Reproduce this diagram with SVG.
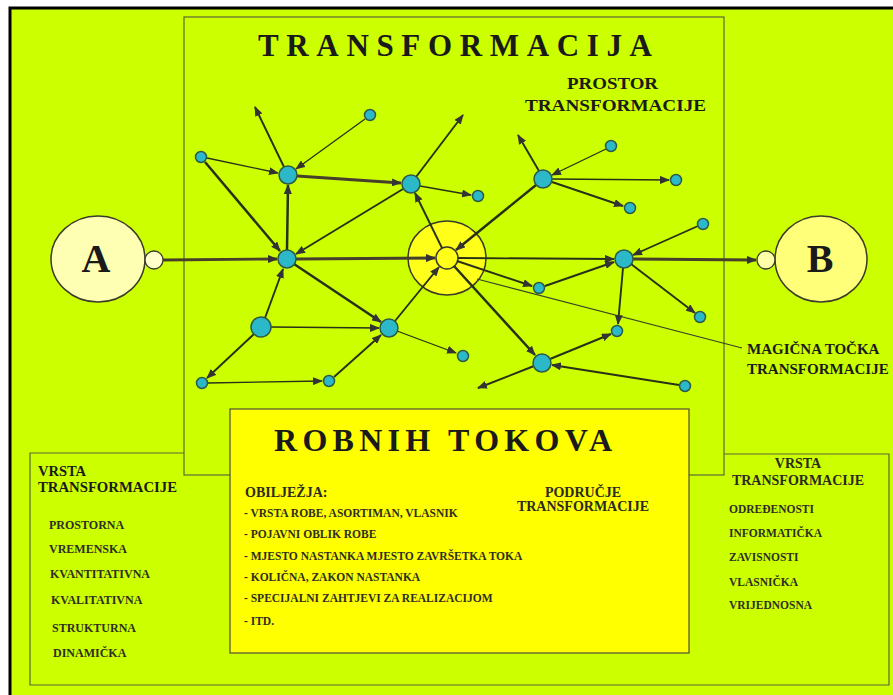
<svg xmlns="http://www.w3.org/2000/svg" width="893" height="695" viewBox="0 0 893 695">
<style>
.t{font-family:"Liberation Serif","Times New Roman",serif;font-weight:bold;fill:#1a1a1a}
.sm{font-size:12px;fill:#2e2e24}
.sr{font-size:11.5px;fill:#2e2e24}
.md{font-size:14px;fill:#2a2a22}
.it{font-size:11.5px;fill:#2e2e24}
.box{fill:none;stroke:#5e6638;stroke-width:1.2}
.e{fill:none;stroke:#283018;marker-end:url(#ah)}
.thin{stroke-width:1.3}
.med{stroke-width:1.9}
.thk{stroke-width:2.5}
.br{stroke:#463f2c;stroke-width:2.8}
.node{fill:#2bb9c9;stroke:#2d5a48;stroke-width:1.5}
</style>
<defs>
<marker id="ah" markerUnits="userSpaceOnUse" markerWidth="10" markerHeight="8" refX="9" refY="4" orient="auto">
<path d="M0,0 L10,4 L0,8 z" fill="#333"/>
</marker>
</defs>
<rect width="893" height="695" fill="#fff"/>
<rect x="10" y="8" width="900" height="700" fill="#ccff00" stroke="#000" stroke-width="3"/>

<g id="frames">
<rect class="box" x="184" y="17" width="540" height="458"/>
<path class="box" d="M184,453 H30 V685 H889 V454 H724"/>
</g>

<g id="robni-box">
<rect x="230" y="409" width="459" height="244" fill="#ffff00" stroke="#4e4e3a" stroke-width="1.2"/>
<text class="t" x="274" y="451" font-size="32" textLength="338" lengthAdjust="spacing">ROBNIH TOKOVA</text>
<text class="t md" x="245" y="497">OBILJEŽJA:</text>
<text class="t it" x="244" y="517">- VRSTA ROBE, ASORTIMAN, VLASNIK</text>
<text class="t it" x="244" y="538">- POJAVNI OBLIK ROBE</text>
<text class="t it" x="244" y="560">- MJESTO NASTANKA MJESTO ZAVRŠETKA TOKA</text>
<text class="t it" x="244" y="581">- KOLIČNA, ZAKON NASTANKA</text>
<text class="t it" x="244" y="602">- SPECIJALNI ZAHTJEVI ZA REALIZACIJOM</text>
<text class="t it" x="244" y="625">- ITD.</text>
<text class="t md" x="583" y="497" text-anchor="middle">PODRUČJE</text>
<text class="t md" x="583" y="511" text-anchor="middle">TRANSFORMACIJE</text>
</g>

<g id="title">
<text class="t" x="258" y="56" font-size="31" textLength="394" lengthAdjust="spacing">TRANSFORMACIJA</text>
<text class="t" x="567" y="89" font-size="16.5" textLength="91" lengthAdjust="spacingAndGlyphs" fill="#2a2a22">PROSTOR</text>
<text class="t" x="525" y="111" font-size="16.5" textLength="181" lengthAdjust="spacingAndGlyphs" fill="#2a2a22">TRANSFORMACIJE</text>
</g>

<g id="left-list">
<text class="t" x="38" y="476" font-size="14.5" fill="#2a2a22">VRSTA</text>
<text class="t" x="38" y="492" font-size="14.5" textLength="139" lengthAdjust="spacingAndGlyphs" fill="#2a2a22">TRANSFORMACIJE</text>
<text class="t sm" x="49" y="529">PROSTORNA</text>
<text class="t sm" x="49" y="553">VREMENSKA</text>
<text class="t sm" x="50" y="578">KVANTITATIVNA</text>
<text class="t sm" x="51" y="604">KVALITATIVNA</text>
<text class="t sm" x="52" y="632">STRUKTURNA</text>
<text class="t sm" x="53" y="657">DINAMIČKA</text>
</g>

<g id="right-list">
<text class="t md" x="798" y="468" text-anchor="middle">VRSTA</text>
<text class="t md" x="798" y="485" text-anchor="middle">TRANSFORMACIJE</text>
<text class="t sr" x="729" y="513">ODREĐENOSTI</text>
<text class="t sr" x="729" y="537">INFORMATIČKA</text>
<text class="t sr" x="729" y="561">ZAVISNOSTI</text>
<text class="t sr" x="729" y="586">VLASNIČKA</text>
<text class="t sr" x="729" y="609">VRIJEDNOSNA</text>
</g>

<g id="magic-label">
<text class="t" x="747" y="354" font-size="15" fill="#2a2a22">MAGIČNA TOČKA</text>
<text class="t" x="747" y="374" font-size="15" fill="#2a2a22">TRANSFORMACIJE</text>
</g>

<g id="node-magic">
<ellipse cx="447" cy="258" rx="39" ry="37" fill="#ffff1a" stroke="#3a3a2a" stroke-width="1.5"/>
<circle cx="447" cy="258" r="11" fill="#ffff1a" stroke="#3a3a2a" stroke-width="1.5"/>
</g>

<g id="connectors">
<path class="e br" d="M163,260 L277,259"/>
<path class="e thin" d="M207,158 L278,173"/>
<path class="e thk" d="M205,162 L280,251"/>
<path class="e med" d="M284,167 L255,107"/>
<path class="e thk" d="M287,250 L288,185"/>
<path class="e thin" d="M365,119 L296,169"/>
<path class="e br" d="M297,176 L401,183"/>
<path class="e med" d="M416,177 L463,115"/>
<path class="e thin" d="M420,186 L471,195"/>
<path class="e med" d="M403,189 L296,254"/>
<path class="e med" d="M442,248 L415,193"/>
<path class="e thk" d="M536,185 L456,250"/>
<path class="e med" d="M539,171 L518,135"/>
<path class="e thin" d="M606,149 L552,175"/>
<path class="e thin" d="M552,179 L669,180"/>
<path class="e med" d="M552,182 L623,206"/>
<path class="e med" d="M698,226 L633,255"/>
<path class="e br" d="M296,259 L435,258"/>
<path class="e med" d="M458,258 L614,259"/>
<path class="e br" d="M633,259 L756,260"/>
<path class="e med" d="M457,261 L532,286"/>
<path class="e med" d="M545,286 L614,262"/>
<path fill="none" stroke="#3a4228" stroke-width="1.2" d="M477,279 L742,348"/>
<path class="e med" d="M631,264 L695,313"/>
<path class="e med" d="M623,268 L618,324"/>
<path class="e med" d="M550,359 L611,334"/>
<path class="e med" d="M679,385 L552,365"/>
<path class="e med" d="M534,366 L478,388"/>
<path class="e thk" d="M454,266 L535,355"/>
<path class="e thk" d="M294,264 L381,322"/>
<path class="e med" d="M395,321 L439,267"/>
<path class="e thin" d="M271,327 L379,328"/>
<path class="e thin" d="M397,331 L456,353"/>
<path class="e med" d="M334,377 L381,335"/>
<path class="e thin" d="M208,383 L322,381"/>
<path class="e med" d="M254,334 L207,378"/>
<path class="e med" d="M265,318 L283,269"/>
</g>

<g id="node-A">
<ellipse cx="98" cy="259" rx="47" ry="43" fill="#ffffb4" stroke="#3a3a2a" stroke-width="1.5"/>
<circle cx="154" cy="260" r="9" fill="#ffffcc" stroke="#3a3a2a" stroke-width="1.3"/>
<text class="t" x="96" y="272" font-size="40" text-anchor="middle">A</text>
</g>
<g id="node-B">
<ellipse cx="821" cy="259" rx="46" ry="43" fill="#ffff7a" stroke="#3a3a2a" stroke-width="1.5"/>
<circle cx="766" cy="260" r="9" fill="#ffffa8" stroke="#3a3a2a" stroke-width="1.3"/>
<text class="t" x="820" y="272" font-size="40" text-anchor="middle">B</text>
</g>

<g id="n1"><circle class="node" cx="287" cy="259" r="9"/></g>
<g id="n2"><circle class="node" cx="288" cy="175" r="9"/></g>
<g id="n3"><circle class="node" cx="411" cy="184" r="9"/></g>
<g id="n4"><circle class="node" cx="543" cy="179" r="9"/></g>
<g id="n5"><circle class="node" cx="624" cy="259" r="9"/></g>
<g id="n6"><circle class="node" cx="389" cy="328" r="9"/></g>
<g id="n7"><circle class="node" cx="261" cy="327" r="10"/></g>
<g id="n8"><circle class="node" cx="542" cy="363" r="9"/></g>
<g id="s1"><circle class="node" cx="201" cy="157" r="5.5"/></g>
<g id="s2"><circle class="node" cx="370" cy="115" r="5.5"/></g>
<g id="s3"><circle class="node" cx="478" cy="196" r="5.5"/></g>
<g id="s4"><circle class="node" cx="611" cy="146" r="5.5"/></g>
<g id="s5"><circle class="node" cx="676" cy="180" r="5.5"/></g>
<g id="s6"><circle class="node" cx="630" cy="208" r="5.5"/></g>
<g id="s7"><circle class="node" cx="703" cy="224" r="5.5"/></g>
<g id="s8"><circle class="node" cx="539" cy="288" r="5.5"/></g>
<g id="s9"><circle class="node" cx="700" cy="317" r="5.5"/></g>
<g id="s10"><circle class="node" cx="617" cy="331" r="5.5"/></g>
<g id="s11"><circle class="node" cx="685" cy="386" r="5.5"/></g>
<g id="s12"><circle class="node" cx="463" cy="356" r="5.5"/></g>
<g id="s13"><circle class="node" cx="329" cy="381" r="5.5"/></g>
<g id="s14"><circle class="node" cx="202" cy="383" r="5.5"/></g>
</svg>
